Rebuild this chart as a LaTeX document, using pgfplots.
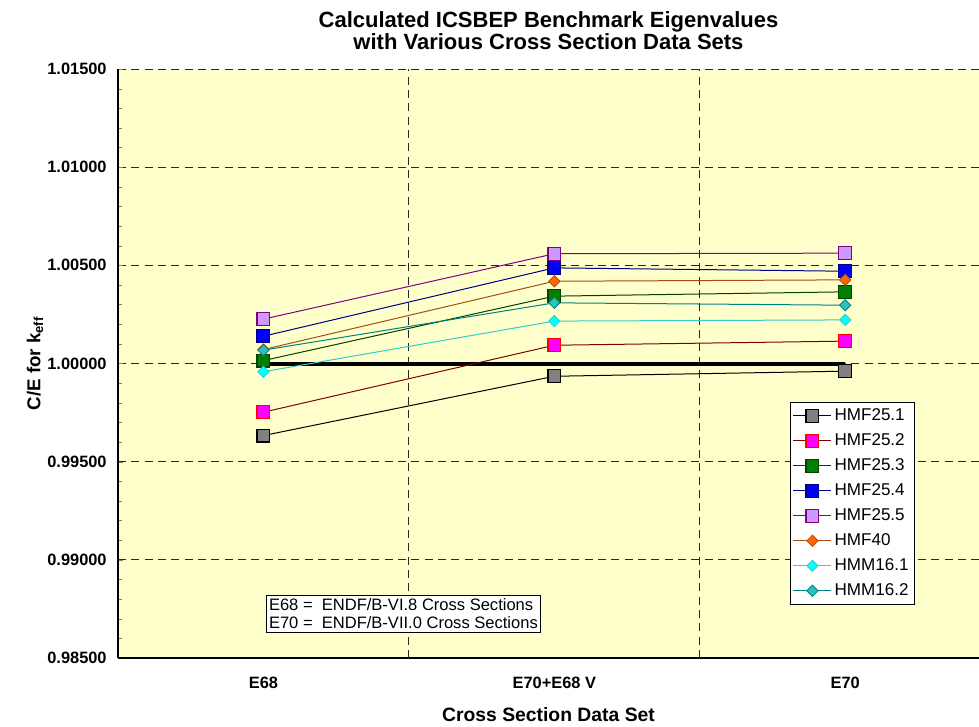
\documentclass[border=0pt]{standalone}
\usepackage{pgfplots}
\pgfplotsset{compat=1.18}
\usepackage{fontspec}
\setmainfont{Liberation Sans}
\definecolor{bgy}{RGB}{255,255,204}
\definecolor{c1f}{RGB}{128,128,128}
\definecolor{c2f}{RGB}{255,0,255}\definecolor{c2e}{RGB}{255,0,0}\definecolor{c2l}{RGB}{128,0,0}
\definecolor{c3f}{RGB}{0,128,0}\definecolor{c3l}{RGB}{0,64,0}
\definecolor{c4f}{RGB}{0,0,255}\definecolor{c4l}{RGB}{0,0,128}
\definecolor{c5f}{RGB}{204,153,255}\definecolor{c5l}{RGB}{128,0,128}
\definecolor{c6f}{RGB}{255,102,0}\definecolor{c6l}{RGB}{170,75,20}
\definecolor{c7f}{RGB}{0,255,255}\definecolor{c7l}{RGB}{51,204,204}
\definecolor{c8f}{RGB}{51,190,190}\definecolor{c8l}{RGB}{0,128,128}
\begin{document}
\begin{tikzpicture}
\begin{axis}[
  scale only axis, width=645.75pt, height=441.75pt,
  xmin=-0.5, xmax=2.46, ymin=0.985, ymax=1.015,
  axis x line=bottom, axis y line=left,
  axis line style={-, black, line width=0.8pt},
  every outer x axis line/.append style={-},
  every outer y axis line/.append style={-},
  axis background/.style={fill=bgy},
  xtick={0,1,2}, xticklabels={E68, E70+E68 V, E70},
  x tick style={draw=none},
  extra x ticks={0.5,1.5}, extra x tick labels={},
  extra x tick style={grid=major, tick style={draw=black}, major tick length=4pt},
  ytick={0.985,0.99,0.995,1,1.005,1.01,1.015},
  minor y tick num=4,
  tick align=inside, major tick length=4pt, minor tick length=3pt,
  ymajorgrids,
  grid style={black!85, line width=0.6pt, dash pattern=on 6pt off 4pt},
  yticklabel style={/pgf/number format/.cd, fixed, fixed zerofill, precision=5, assume math mode=true, /tikz/.cd, font=\bfseries\fontsize{12.3}{14}\selectfont, xshift=-5pt},
  xticklabel style={font=\bfseries\fontsize{12.3}{14}\selectfont, yshift=-10.5pt},
  xlabel={\bfseries Cross Section Data Set},
  xlabel style={font=\fontsize{14.5}{16}\selectfont, at={(axis description cs:0.5,-0.0965)}, anchor=center},
  ylabel={\bfseries C/E for k\textsubscript{eff}},
  ylabel style={font=\fontsize{14}{16}\selectfont, at={(axis description cs:-0.0964,0.5)}, anchor=center},
  title={\bfseries Calculated ICSBEP Benchmark Eigenvalues\\\bfseries with Various Cross Section Data Sets},
  title style={font=\fontsize{16.5}{16.5}\selectfont, align=center, at={(axis description cs:0.5,1.052)}, anchor=center},
  legend style={at={(axis description cs:0.7805,0.4346)}, anchor=north west, draw=black, fill=white, font=\fontsize{12.8}{14}\selectfont, row sep=4.3pt, inner xsep=2pt, inner ysep=3pt},
  legend cell align=left,
  legend image code/.code={\draw[mark repeat=2,mark phase=2] plot coordinates {(0cm,0cm) (0.5cm,0cm) (1.0cm,0cm)};},
  every axis plot/.append style={line width=0.75pt},
]
\addplot[black, line width=3pt, forget plot] coordinates {(0,1.0) (2,1.0)};
\addplot[black, mark=square*, mark size=4.8pt, mark options={fill=c1f, draw=black, line width=0.9pt}] coordinates {(0,0.99633) (1,0.99935) (2,0.99961)};
\addlegendentry{HMF25.1}
\addplot[c2l, mark=square*, mark size=4.8pt, mark options={fill=c2f, draw=c2e, line width=0.9pt}] coordinates {(0,0.99752) (1,1.00093) (2,1.00114)};
\addlegendentry{HMF25.2}
\addplot[c3l, mark=square*, mark size=4.8pt, mark options={fill=c3f, draw=c3l, line width=0.9pt}] coordinates {(0,1.00015) (1,1.00343) (2,1.00365)};
\addlegendentry{HMF25.3}
\addplot[c4l, mark=square*, mark size=4.8pt, mark options={fill=c4f, draw=c4l, line width=0.9pt}] coordinates {(0,1.00139) (1,1.00487) (2,1.00470)};
\addlegendentry{HMF25.4}
\addplot[c5l, mark=square*, mark size=4.8pt, mark options={fill=c5f, draw=c5l, line width=0.9pt}] coordinates {(0,1.00226) (1,1.00559) (2,1.00562)};
\addlegendentry{HMF25.5}
\addplot[c6l, mark=square*, mark size=3pt, mark options={fill=c6f, draw=c6l, rotate=45, line width=0.6pt}] coordinates {(0,1.00071) (1,1.00419) (2,1.00426)};
\addlegendentry{HMF40}
\addplot[c7l, mark=square*, mark size=3pt, mark options={fill=c7f, draw=c7l, rotate=45, line width=0.6pt}] coordinates {(0,0.99958) (1,1.00216) (2,1.00222)};
\addlegendentry{HMM16.1}
\addplot[c8l, mark=square*, mark size=3pt, mark options={fill=c8f, draw=c8l, rotate=45, line width=0.6pt}] coordinates {(0,1.00068) (1,1.00309) (2,1.00297)};
\addlegendentry{HMM16.2}
\node[draw=black, fill=white, anchor=south west, align=left, inner sep=2pt, font=\fontsize{12.4}{14}\selectfont] at (rel axis cs:0.172,0.044) {E68 =\ \ ENDF/B-VI.8 Cross Sections\\E70 =\ \ ENDF/B-VII.0 Cross Sections};
\end{axis}
\pgfresetboundingbox
\useasboundingbox (-88.5pt,-51pt) rectangle (645.75pt,493.5pt);
\end{tikzpicture}
\end{document}
